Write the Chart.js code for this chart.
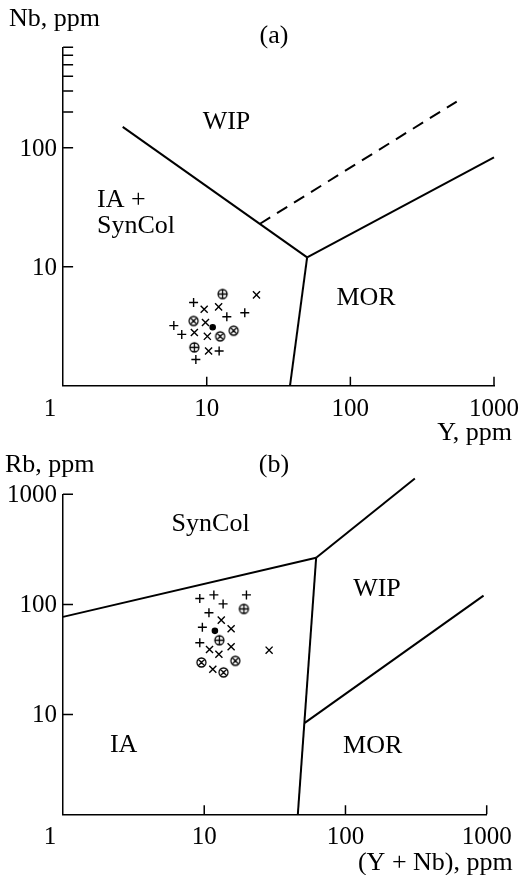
<!DOCTYPE html>
<html>
<head>
<meta charset="utf-8">
<script src="https://cdn.jsdelivr.net/npm/chart.js@4"></script>
<style>
  html, body { margin: 0; padding: 0; background: #fff; }
  #wrap { position: relative; width: 526px; height: 875px; overflow: hidden; }
  canvas { position: absolute; left: 0; }
  #chartA { top: 0; }
  #chartB { top: 440px; }
</style>
</head>
<body>
<div id="wrap">
  <canvas id="chartA" width="526" height="460"></canvas>
  <canvas id="chartB" width="526" height="435"></canvas>
</div>
<script>
// ---- panel (a): Nb vs Y, ppm ----
const plusA   = [[8.1, 5.0], [13.8, 3.8], [18.4, 4.1], [5.9, 3.2], [6.7, 2.7], [12.2, 1.96], [8.4, 1.66]];
const crossA  = [[22.2, 5.8], [9.6, 4.4], [12.1, 4.6], [9.8, 3.4], [8.2, 2.8], [10.1, 2.6], [10.3, 1.96]];
const oplusA  = [[12.9, 5.9], [8.2, 2.1]];
const otimesA = [[8.1, 3.5], [15.4, 2.9], [12.4, 2.6]];
const dotA    = [[11.0, 3.1]];

const lineA1 = [[2.6, 150], [50, 12]];   // WIP / IA+SynCol
const lineA2 = [[50, 12], [1000, 83]];   // WIP / MOR
const lineA3 = [[50, 12], [38, 1]];      // IA+SynCol / MOR
const dashA  = [[23.5, 23], [550, 245]];

// ---- panel (b): Rb vs (Y + Nb), ppm ----
const plusB   = [[9.3, 113], [11.7, 122], [13.6, 101], [19.9, 122], [10.8, 84], [9.7, 62], [9.3, 44.8]];
const crossB  = [[13.2, 72], [15.5, 60], [10.9, 39], [12.7, 35.3], [15.5, 41.2], [28.8, 38.4], [11.5, 25.8]];
const oplusB  = [[19.1, 91], [12.8, 47.3]];
const otimesB = [[9.55, 29.7], [16.6, 30.7], [13.7, 24.1]];
const dotB    = [[11.9, 57.5]];

const lineB1 = [[1, 77], [62, 265]];      // SynCol / IA
const lineB2 = [[62, 265], [310, 1390]];  // SynCol / WIP
const lineB3 = [[62, 265], [46, 1.24]];   // IA / WIP+MOR
const lineB4 = [[51.5, 8.4], [950, 120]]; // WIP / MOR

// ---- axes ----
const xTickLabels = [1, 10, 100, 1000];
const xTickMarks = [10, 100, 1000];
const yTicksA = [10, 100];
const yMinorA = [200, 300, 400, 500, 600, 700];
const yTicksB = [10, 100, 1000];

const TICK_FONT = '25px "Liberation Serif", "Times New Roman", serif';
const TEXT_FONT = '26px "Liberation Serif", "Times New Roman", serif';

const toXY = arr => arr.map(([x, y]) => ({ x, y }));

function ringSymbol(kind) {
  const c = document.createElement('canvas');
  c.width = 13; c.height = 13;
  const g = c.getContext('2d');
  g.strokeStyle = '#000';
  g.lineWidth = 1.3;
  g.beginPath();
  g.arc(6.5, 6.5, 4.5, 0, Math.PI * 2);
  if (kind === 'plus') {
    g.moveTo(6.5, 2); g.lineTo(6.5, 11);
    g.moveTo(2, 6.5); g.lineTo(11, 6.5);
  } else {
    const d = 3.2;
    g.moveTo(6.5 - d, 6.5 - d); g.lineTo(6.5 + d, 6.5 + d);
    g.moveTo(6.5 + d, 6.5 - d); g.lineTo(6.5 - d, 6.5 + d);
  }
  g.stroke();
  return c;
}
const oplusImg = ringSymbol('plus');
const otimesImg = ringSymbol('times');

function pts(data, style, radius, fill) {
  return {
    type: 'scatter',
    data: toXY(data),
    pointStyle: style,
    pointRadius: radius,
    borderColor: '#000',
    backgroundColor: fill ? '#000' : 'rgba(0,0,0,0)',
    borderWidth: 1.4,
    showLine: false
  };
}

function seg(data, dash) {
  return {
    type: 'line',
    data: toXY(data),
    borderColor: '#000',
    borderWidth: 2,
    borderDash: dash || [],
    pointRadius: 0,
    fill: false,
    tension: 0,
    clip: false
  };
}

const decor = {
  id: 'decor',
  afterDraw(chart, args, opts) {
    const { ctx, chartArea: area } = chart;
    const x = chart.scales.x, y = chart.scales.y;
    ctx.save();
    ctx.strokeStyle = '#000';
    ctx.lineWidth = 1.5;
    ctx.beginPath();
    opts.xMarks.forEach(v => {
      const px = x.getPixelForValue(v);
      ctx.moveTo(px, area.bottom);
      ctx.lineTo(px, area.bottom - 9);
    });
    opts.yMarks.forEach(v => {
      const py = y.getPixelForValue(v);
      ctx.moveTo(area.left, py);
      ctx.lineTo(area.left + 10, py);
    });
    ctx.stroke();

    ctx.fillStyle = '#000';
    ctx.font = TICK_FONT;
    ctx.textBaseline = 'alphabetic';
    ctx.textAlign = 'center';
    opts.xLabels.forEach((v, i) => {
      const px = x.getPixelForValue(v) + (i === 0 ? -13 : 0);
      ctx.fillText(String(v), px, area.bottom + 30);
    });
    ctx.textAlign = 'right';
    opts.yLabels.forEach(v => {
      ctx.fillText(String(v), area.left - 6, y.getPixelForValue(v) + 8);
    });
    ctx.font = TEXT_FONT;
    opts.texts.forEach(t => {
      ctx.textAlign = t.align;
      ctx.fillText(t.s, t.x, t.y);
    });
    ctx.restore();
  }
};

function makeChart(id, cfg) {
  const canvas = document.getElementById(id);
  return new Chart(canvas.getContext('2d'), {
    type: 'scatter',
    data: { datasets: cfg.datasets },
    options: {
      responsive: false,
      animation: false,
      events: [],
      layout: { padding: { top: cfg.top, right: cfg.right, left: 0, bottom: 0 } },
      scales: {
        x: {
          type: 'logarithmic', min: 1, max: 1000,
          grid: { display: false },
          border: { display: true, color: '#000', width: 1.5 },
          ticks: { display: false },
          afterFit: s => { s.height = cfg.xHeight; }
        },
        y: {
          type: 'logarithmic', min: cfg.yMin, max: cfg.yMax,
          grid: { display: false },
          border: { display: true, color: '#000', width: 1.5 },
          ticks: { display: false },
          afterFit: s => { s.width = cfg.yWidth; }
        }
      },
      plugins: {
        legend: { display: false },
        tooltip: { enabled: false },
        decor: cfg.decor
      }
    },
    plugins: [decor]
  });
}

makeChart('chartA', {
  top: 47.3, right: 32, xHeight: 460 - 385.7, yWidth: 63.1,
  yMin: 1, yMax: 700,
  datasets: [
    seg(lineA1), seg(lineA2), seg(lineA3), seg(dashA, [12, 8]),
    pts(plusA, 'cross', 4.5, false),
    pts(crossA, 'crossRot', 5, false),
    pts(oplusA, oplusImg, 4.5, false),
    pts(otimesA, otimesImg, 4.5, false),
    pts(dotA, 'circle', 2.6, true)
  ],
  decor: {
    xMarks: xTickMarks, xLabels: xTickLabels,
    yMarks: yTicksA.concat(yMinorA), yLabels: yTicksA,
    texts: [
      { s: 'Nb, ppm', x: 9, y: 26, align: 'left' },
      { s: '(a)', x: 274, y: 43, align: 'center' },
      { s: 'WIP', x: 226.5, y: 129, align: 'center' },
      { s: 'IA +', x: 97, y: 207, align: 'left' },
      { s: 'SynCol', x: 97, y: 233, align: 'left' },
      { s: 'MOR', x: 366, y: 305, align: 'center' },
      { s: 'Y, ppm', x: 512, y: 440, align: 'right' }
    ]
  }
});

makeChart('chartB', {
  top: 54.3, right: 39.3, xHeight: 435 - 374.3, yWidth: 63,
  yMin: 1.24, yMax: 1000,
  datasets: [
    seg(lineB1), seg(lineB2), seg(lineB3), seg(lineB4),
    pts(plusB, 'cross', 4.5, false),
    pts(crossB, 'crossRot', 5, false),
    pts(oplusB, oplusImg, 4.5, false),
    pts(otimesB, otimesImg, 4.5, false),
    pts(dotB, 'circle', 2.6, true)
  ],
  decor: {
    xMarks: xTickMarks, xLabels: xTickLabels,
    yMarks: yTicksB, yLabels: yTicksB,
    texts: [
      { s: 'Rb, ppm', x: 5, y: 32, align: 'left' },
      { s: '(b)', x: 274, y: 32, align: 'center' },
      { s: 'SynCol', x: 210.6, y: 91, align: 'center' },
      { s: 'WIP', x: 377, y: 156, align: 'center' },
      { s: 'IA', x: 123.6, y: 312, align: 'center' },
      { s: 'MOR', x: 372.7, y: 313, align: 'center' },
      { s: '(Y + Nb), ppm', x: 512.7, y: 430, align: 'right' }
    ]
  }
});
</script>
</body>
</html>
